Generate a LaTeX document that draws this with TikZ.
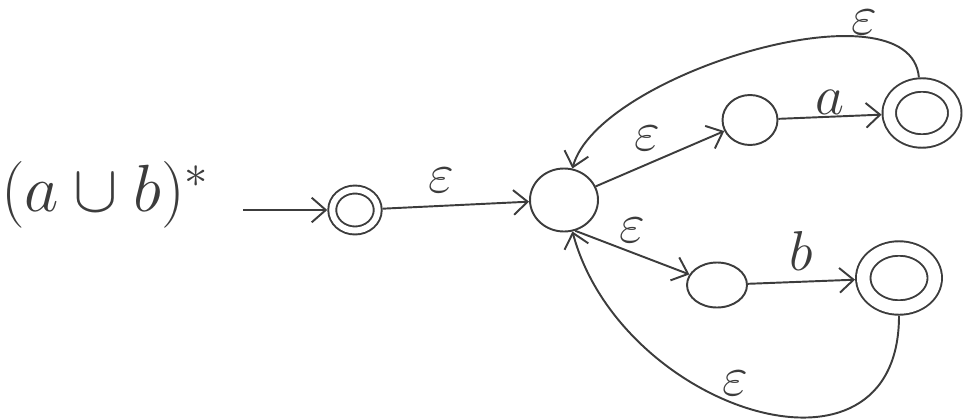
\RequirePackage{fix-cm}
\documentclass[tikz,border=0pt]{standalone}
\usepackage{amsmath}
\usepackage{amssymb}
\usepackage{xcolor}
\usepackage{tikz}
\usetikzlibrary{shapes.geometric,arrows.meta,positioning}

\definecolor{pen}{HTML}{3C3C3C}

\begin{document}
\begin{tikzpicture}[
    on grid,
    nstate/.style={ellipse, draw=pen, line width=1.1pt, inner sep=0pt},
    final/.style={nstate, double, double distance=0.23cm, outer sep=0.155cm},
    arrow/.style={draw=pen, line width=1.1pt, -{Straight Barb[length=8pt,width=14pt]}},
    lbl/.style={text=pen, inner sep=1pt, font=\fontsize{32}{36}\selectfont}
]
    \useasboundingbox (0,0) rectangle (19.28,8.36);

    \node [final, minimum width=0.91cm, minimum height=0.82cm, double distance=0.12cm, outer sep=0.1cm] (q0) at (7.10,4.16) {};
    \node [nstate, minimum width=1.36cm, minimum height=1.26cm, above right=0.2cm and 4.18cm of q0] (q1) {};
    \node [nstate, minimum width=1.1cm, minimum height=1.0cm, above right=1.6cm and 3.72cm of q1] (q2) {};
    \node [final, minimum width=1.31cm, minimum height=1.12cm, above right=0.14cm and 3.44cm of q2] (q3) {};
    \node [nstate, minimum width=1.2cm, minimum height=0.9cm, below right=1.7cm and 3.06cm of q1] (q4) {};
    \node [final, minimum width=1.43cm, minimum height=1.18cm, double distance=0.25cm, outer sep=0.165cm, above right=0.14cm and 3.64cm of q4] (q5) {};

    \node [lbl, font=\fontsize{38}{44}\selectfont, above left=0.3cm and 5cm of q0] (expr) {$(a\cup b)^{*}$};
    \coordinate [left=2.24cm of q0] (start);

    \draw [arrow] (start) -- (q0);
    \draw [arrow] (q0) -- node [lbl, pos=0.4, above=6pt] {$\varepsilon$} (q1);
    \draw [arrow] (q1) -- node [lbl, pos=0.4, above=6pt] {$\varepsilon$} (q2);
    \draw [arrow] (q2) -- node [lbl, above=0pt] {$a$} (q3);
    \draw [arrow] (q1.-70) -- node [lbl, above=4pt] {$\varepsilon$} (q4);
    \draw [arrow] (q4) -- node [lbl, above=5pt] {$b$} (q5);
    \draw [arrow] (q3) to [out=95, in=75, looseness=0.7] node [lbl, pos=0.25, above=0pt] {$\varepsilon$} (q1);
    \draw [arrow] (q5) to [out=-90, in=-75, looseness=1.4] node [lbl, pos=0.54, above=3pt] {$\varepsilon$} (q1);
\end{tikzpicture}
\end{document}
